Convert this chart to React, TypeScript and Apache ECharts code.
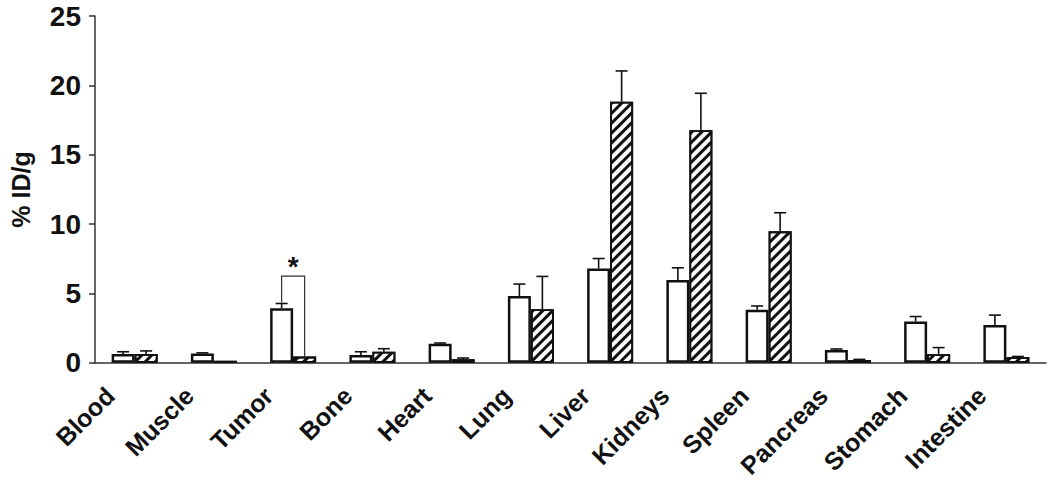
import React, { useEffect, useRef } from "react";
import * as echarts from "echarts";

const categories = ["Blood", "Muscle", "Tumor", "Bone", "Heart", "Lung", "Liver", "Kidneys", "Spleen", "Pancreas", "Stomach", "Intestine"];
const controlValues = [0.64, 0.67, 3.94, 0.57, 1.38, 4.82, 6.8, 5.97, 3.82, 0.93, 2.98, 2.72];
const controlSD = [0.16, 0.05, 0.34, 0.23, 0.05, 0.86, 0.72, 0.88, 0.28, 0.07, 0.36, 0.72];
const blockedValues = [0.64, 0.15, 0.45, 0.8, 0.26, 3.87, 18.82, 16.76, 9.48, 0.2, 0.62, 0.43];
const blockedSD = [0.22, 0, 0, 0.22, 0.09, 2.36, 2.22, 2.67, 1.34, 0.05, 0.48, 0.03];
const yTicks = { min: 0, max: 25, interval: 5 };
// significance bracket: [category index, bracket level, label]
const significance: [number, number, string][] = [[2, 6.25, "*"]];

const BAR_W = 23;
const FONT = "Liberation Sans, Arial, sans-serif";

export default function App() {
  const ref = useRef<HTMLDivElement>(null);
  useEffect(() => {
    const chart = echarts.init(ref.current!, null, { renderer: "svg" });
    const errRender = (offset: number) => (params: any, api: any) => {
      const i = api.value(0);
      const v = api.value(1);
      const hi = api.value(2);
      if (hi - v <= 0.001) return null;
      const pLow = api.coord([i, v]);
      const pHigh = api.coord([i, hi]);
      const x = pLow[0] + offset;
      return {
        type: "group",
        children: [
          { type: "line", shape: { x1: x, y1: pLow[1], x2: x, y2: pHigh[1] }, style: { stroke: "#111", lineWidth: 1.6 } },
          { type: "line", shape: { x1: x - 6, y1: pHigh[1], x2: x + 6, y2: pHigh[1] }, style: { stroke: "#111", lineWidth: 1.6 } },
        ],
      };
    };
    const bracketData = significance.map(([i, level, label]) => [
      i,
      controlValues[i] + controlSD[i],
      blockedValues[i] + blockedSD[i],
      level,
      label,
    ]);
    chart.setOption({
      animation: false,
      grid: { left: 88, right: 4, top: 16, bottom: 116, containLabel: false },
      xAxis: {
        type: "category",
        data: categories,
        axisLine: { lineStyle: { color: "#333", width: 1.5 } },
        axisTick: { length: 7, lineStyle: { color: "#333", width: 1.5 } },
        axisLabel: {
          rotate: 45,
          interval: 0,
          margin: 4,
          formatter: (v: string) => v + "\u00a0\u00a0\u00a0\u00a0\u00a0",
          fontFamily: FONT,
          fontWeight: "bold",
          fontSize: 25,
          color: "#111",
        },
      },
      yAxis: {
        type: "value",
        min: yTicks.min,
        max: yTicks.max,
        interval: yTicks.interval,
        name: "% ID/g",
        nameLocation: "middle",
        nameGap: 62,
        nameTextStyle: { fontFamily: FONT, fontWeight: "bold", fontSize: 25, color: "#111" },
        axisLine: { show: true, lineStyle: { color: "#333", width: 1.5 } },
        axisTick: { show: true, length: 6, lineStyle: { color: "#333", width: 1.5 } },
        splitLine: { show: false },
        axisLabel: { margin: 14, fontFamily: FONT, fontWeight: "bold", fontSize: 28, color: "#111" },
      },
      series: [
        {
          type: "bar",
          data: controlValues,
          barWidth: BAR_W,
          barGap: "0%",
          itemStyle: { color: "#fff", borderColor: "#111", borderWidth: 2.5 },
        },
        {
          type: "bar",
          data: blockedValues,
          barWidth: BAR_W,
          barGap: "0%",
          itemStyle: {
            color: "#fff",
            borderColor: "#111",
            borderWidth: 1.8,
            decal: {
              symbol: "rect",
              symbolSize: 1,
              color: "#111",
              backgroundColor: "#fff",
              dashArrayX: [1, 0],
              dashArrayY: [3, 3.5],
              rotation: -Math.PI / 4,
            },
          },
        },
        {
          type: "custom",
          renderItem: errRender(-BAR_W / 2),
          data: controlValues.map((v, i) => [i, v, v + controlSD[i]]),
          encode: { x: 0, y: [1, 2] },
          z: 5,
        },
        {
          type: "custom",
          renderItem: errRender(BAR_W / 2),
          data: blockedValues.map((v, i) => [i, v, v + blockedSD[i]]),
          encode: { x: 0, y: [1, 2] },
          z: 5,
        },
        {
          type: "custom",
          data: bracketData,
          encode: { x: 0, y: [1, 2, 3] },
          z: 6,
          renderItem: (params: any, api: any) => {
            const i = api.value(0);
            const a = api.coord([i, api.value(1)]);
            const b = api.coord([i, api.value(2)]);
            const t = api.coord([i, api.value(3)]);
            const xa = a[0] - BAR_W / 2;
            const xb = a[0] + BAR_W / 2;
            return {
              type: "group",
              children: [
                {
                  type: "polyline",
                  shape: { points: [[xa, a[1] - 1], [xa, t[1]], [xb, t[1]], [xb, b[1]]] },
                  style: { stroke: "#333", lineWidth: 1.2, fill: null },
                },
                {
                  type: "text",
                  x: a[0],
                  y: t[1] + 4,
                  style: {
                    text: bracketData[params.dataIndex][4],
                    fontFamily: FONT,
                    fontSize: 28,
                    fontWeight: "bold",
                    fill: "#111",
                    align: "center",
                    verticalAlign: "bottom",
                  },
                },
              ],
            };
          },
        },
      ],
    });
    return () => chart.dispose();
  }, []);
  return <div ref={ref} style={{ position: "fixed", left: 0, top: 0, width: 1050, height: 481, background: "#fff" }} />;
}
